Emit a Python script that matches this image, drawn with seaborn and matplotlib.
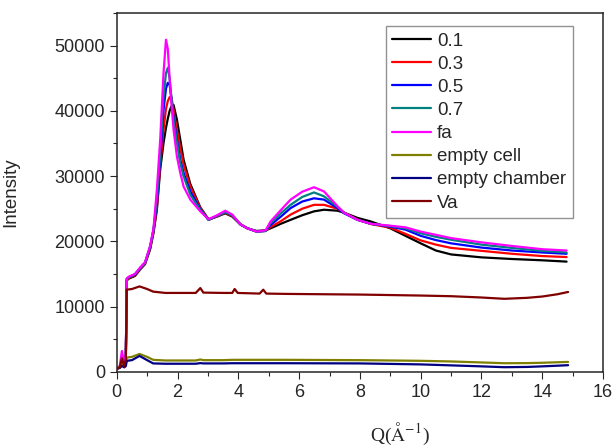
import numpy as np
import pandas as pd
import seaborn as sns
import matplotlib.pyplot as plt
from matplotlib.ticker import MultipleLocator

# Q grid (1/Angstrom) for the sample curves
q_main = [0.0, 0.1, 0.17, 0.25, 0.3, 0.33, 0.4, 0.6, 0.77, 0.93, 1.1, 1.21, 1.32, 1.43, 1.54,
          1.62, 1.68, 1.74, 1.8, 1.87, 1.98, 2.09, 2.2, 2.42, 2.75, 3.02, 3.3, 3.57, 3.8, 4.07,
          4.3, 4.6, 4.9, 5.06, 5.4, 5.72, 6.1, 6.49, 6.82, 7.26, 7.48, 7.92, 8.36, 9.0, 9.5,
          10, 10.5, 11, 12, 13, 14, 14.8]

i_01 = [500, 800, 1500, 1000, 2500, 14000, 14300, 14700, 15700, 16500, 18800, 21300, 24800, 31000, 35100,
        37400, 38800, 40000, 40700, 40900, 38650, 35600, 32500, 28800, 25200, 23400, 23800, 24300, 23800, 22600,
        22000, 21600, 21700, 22000, 22700, 23300, 24000, 24600, 24850, 24700, 24400, 23600, 23050, 22000, 20850,
        19700, 18600, 18000, 17550, 17300, 17100, 16900]
i_03 = [500, 800, 1500, 1000, 2500, 14100, 14400, 14800, 15800, 16600, 19000, 21600, 25200, 31700, 37100,
        40300, 41500, 42100, 42100, 40000, 37100, 34300, 31750, 28400, 25100, 23300, 23800, 24400, 23900, 22600,
        22000, 21500, 21600, 22200, 23100, 24100, 25000, 25600, 25600, 25000, 24400, 23350, 22650, 22100, 21150,
        20150, 19500, 19000, 18550, 18100, 17750, 17600]
i_05 = [500, 800, 1500, 1000, 2500, 14200, 14500, 14900, 15900, 16700, 19200, 21800, 25800, 32500, 40200,
        43400, 44300, 44000, 41900, 39000, 35600, 32500, 30500, 27650, 24900, 23300, 23900, 24500, 24000, 22600,
        22000, 21500, 21600, 22500, 23800, 25100, 26100, 26600, 26400, 25100, 24300, 23300, 22700, 22250, 21800,
        20850, 20200, 19700, 19050, 18600, 18300, 18100]
i_07 = [500, 800, 1500, 1000, 2500, 14300, 14500, 15000, 15900, 16700, 19200, 21800, 26500, 33500, 42200,
        45800, 46600, 45000, 42000, 38500, 35100, 32000, 29950, 27150, 24800, 23300, 23900, 24500, 24000, 22600,
        22000, 21500, 21600, 22800, 24300, 25600, 26800, 27500, 26900, 25300, 24400, 23300, 22700, 22350, 22000,
        21250, 20700, 20250, 19500, 19000, 18550, 18300]
i_fa = [500, 900, 3200, 1200, 2800, 14300, 14600, 15000, 16000, 16800, 19300, 22000, 27900, 35600, 45850,
        50900, 49500, 45000, 41000, 37100, 33000, 30500, 28400, 26400, 24600, 23400, 24000, 24700, 24100, 22600,
        22000, 21500, 21700, 23050, 24800, 26400, 27600, 28300, 27650, 25400, 24400, 23300, 22700, 22400, 22150,
        21500, 21000, 20500, 19850, 19300, 18800, 18600]

# background curves
q_bg = [0.0, 0.1, 0.17, 0.25, 0.3, 0.33, 0.5, 0.75, 1.0, 1.2, 1.6, 2.0, 2.6, 2.75, 2.85, 3.5, 3.8,
        3.88, 3.98, 4.7, 4.82, 4.92, 5.6, 8.0, 10.0, 11.0, 12.0, 12.75, 13.5, 14.0, 14.5, 14.85]
i_cell = [500, 800, 1200, 900, 1200, 2200, 2300, 2750, 2300, 1850, 1750, 1750, 1750, 1900, 1800, 1800, 1850,
          1850, 1850, 1850, 1850, 1850, 1850, 1800, 1700, 1600, 1450, 1330, 1350, 1400, 1480, 1530]
i_chamber = [500, 600, 900, 700, 900, 1700, 1800, 2450, 1800, 1300, 1250, 1250, 1250, 1350, 1300, 1300, 1330,
             1330, 1330, 1330, 1330, 1330, 1330, 1300, 1150, 1000, 850, 720, 760, 850, 950, 1030]
i_va = [400, 700, 2100, 800, 2000, 12600, 12700, 13100, 12700, 12300, 12100, 12100, 12100, 12850, 12150, 12100, 12100,
        12700, 12100, 12000, 12600, 12000, 11950, 11850, 11700, 11600, 11400, 11200, 11350, 11550, 11900, 12250]

labels = ["0.1", "0.3", "0.5", "0.7", "fa", "empty cell", "empty chamber", "Va"]
colors = ["#000000", "#ff0000", "#0000ff", "#008080", "#ff00ff", "#808000", "#000080", "#800000"]

series = [(q_main, i_01), (q_main, i_03), (q_main, i_05), (q_main, i_07), (q_main, i_fa),
          (q_bg, i_cell), (q_bg, i_chamber), (q_bg, i_va)]
df = pd.concat([pd.DataFrame({"Q": q, "I": v, "sample": lab})
                for (q, v), lab in zip(series, labels)], ignore_index=True)

sns.set_style("ticks")
plt.rcParams['font.family'] = ['Liberation Sans', 'DejaVu Sans']
plt.rcParams['mathtext.fontset'] = 'stix'

fig = plt.figure(figsize=(6.16, 4.47), dpi=100)
ax = fig.add_axes([0.1895, 0.168, 0.7895, 0.803])

sns.lineplot(data=df, x="Q", y="I", hue="sample", palette=dict(zip(labels, colors)),
             sort=False, estimator=None, linewidth=1.6, ax=ax)

ax.set_xlim(0, 16)
ax.set_ylim(0, 55000)
ax.xaxis.set_major_locator(MultipleLocator(2))
ax.xaxis.set_minor_locator(MultipleLocator(1))
ax.yaxis.set_major_locator(MultipleLocator(10000))
ax.yaxis.set_minor_locator(MultipleLocator(5000))
ax.tick_params(which='major', length=5, width=0.8, labelsize=13, direction='out')
ax.tick_params(which='minor', length=3, width=0.8, direction='out')
ax.tick_params(top=False, right=False, which='both')
for s in ax.spines.values():
    s.set_linewidth(1.1)
    s.set_visible(True)

ax.set_xlabel("")
ax.set_ylabel("Intensity", fontsize=13.5)
ax.yaxis.set_label_coords((19 - 116.7) / 486.3, 0.5)
fig.text(400 / 616, 1 - 441 / 447, r"Q($\mathrm{\AA}^{-1}$)", fontsize=14,
         family='Liberation Serif', ha='center', va='baseline')

handles, labs = ax.get_legend_handles_labels()
leg = ax.legend(handles, labs, loc='upper right', bbox_to_anchor=(0.9377, 0.9638),
                borderaxespad=0, fontsize=13.5, frameon=True, fancybox=False,
                labelspacing=0.32, handlelength=2.1, handletextpad=0.3, borderpad=0.35)
leg.get_frame().set_edgecolor('#777777')
leg.get_frame().set_linewidth(1.0)

fig.savefig("out.png", dpi=100)
